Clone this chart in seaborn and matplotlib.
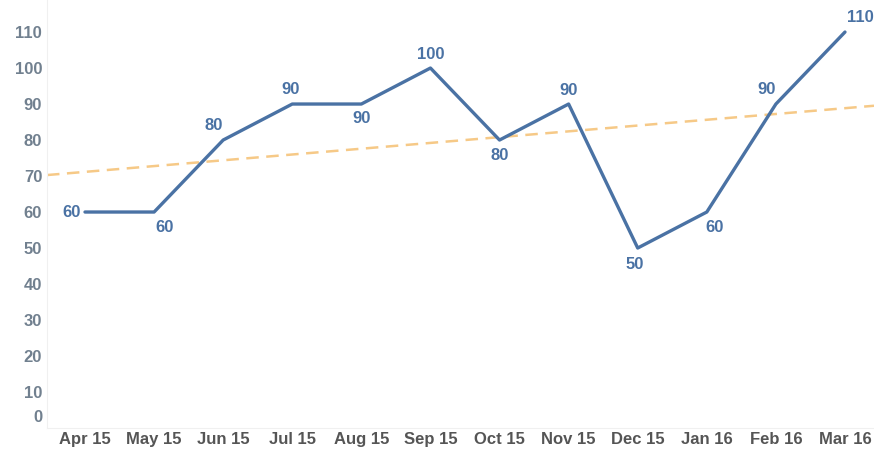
import matplotlib
matplotlib.use("Agg")
import matplotlib.pyplot as plt
import matplotlib.transforms as mtransforms
import numpy as np
import seaborn as sns

months = ["Apr 15", "May 15", "Jun 15", "Jul 15", "Aug 15", "Sep 15",
          "Oct 15", "Nov 15", "Dec 15", "Jan 16", "Feb 16", "Mar 16"]
values = [60, 60, 80, 90, 90, 100, 80, 90, 50, 60, 90, 110]
y_ticks = list(range(0, 111, 10))

# label offsets (pixels) relative to each point
label_offsets = [(-4, 0), (10, -15), (-9, 15), (-2, 15), (0, -14), (0, 14),
                 (0, -15), (0, 14), (-3, -16), (8, -15), (-9, 15), (15, 15)]

LINE = "#4a72a4"
TREND = "#f6c987"
FS = 12

sns.set_theme(style="white")
plt.rcParams["font.family"] = ["Liberation Sans", "DejaVu Sans"]

fig = plt.figure(figsize=(8.74, 4.51), dpi=100)
ax = fig.add_axes([47 / 874, 23 / 451, 1 - 47 / 874, 1 - 23 / 451])

idx = np.arange(len(months))
ax.set_xlim(-0.55, 11.42)
ax.set_ylim(0, 118.9)

sns.regplot(x=idx, y=values, ax=ax, scatter=False, ci=None, truncate=False,
            line_kws=dict(color=TREND, lw=1.8, ls=(0, (5, 3))))
sns.lineplot(x=idx, y=values, ax=ax, color=LINE, lw=2.4)

for i, (v, (dx, dy)) in enumerate(zip(values, label_offsets)):
    ha = "right" if i == 0 else "center"
    ax.annotate(str(v), (i, v), xytext=(dx, dy), textcoords="offset pixels",
                ha=ha, va="center", color=LINE, fontsize=FS,
                fontweight="bold", annotation_clip=False)

ax.set_xticks(idx)
ax.set_xticklabels(months, fontsize=FS, fontweight="bold", color="#555555")
ax.set_yticks(y_ticks)
ax.set_yticklabels([str(t) for t in y_ticks], fontsize=FS,
                   fontweight="bold", color="#71808f")
ax.tick_params(axis="x", length=0, pad=3)
ax.tick_params(axis="y", length=0, pad=3.5)

# the zero label sits a bit higher than its gridline in the original
zero_lbl = ax.get_yticklabels()[0]
zero_lbl.set_transform(zero_lbl.get_transform() +
                       mtransforms.ScaledTranslation(0, 12 / 100, fig.dpi_scale_trans))

for side in ["top", "right"]:
    ax.spines[side].set_visible(False)
for side in ["left", "bottom"]:
    ax.spines[side].set_color("#f0f0f0")
    ax.spines[side].set_linewidth(0.8)

ax.set_xlabel("")
ax.set_ylabel("")
fig.savefig("out.png", dpi=100)
plt.close(fig)
